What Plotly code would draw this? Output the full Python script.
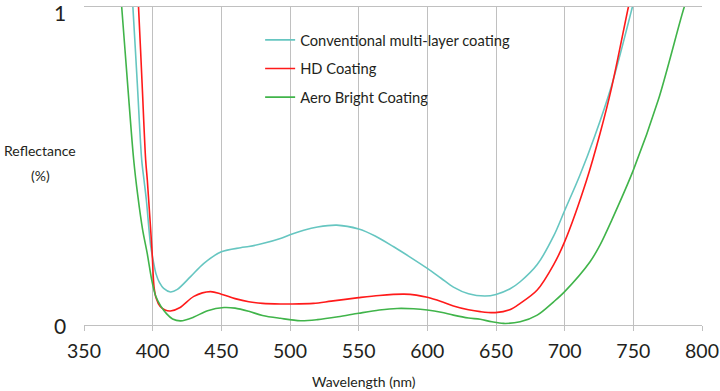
import plotly.graph_objects as go

# Wavelength (nm) and reflectance (%)
conv_wl = [383.8, 385.6, 388.8, 392.0, 393.7, 395.4, 398.5, 400.5, 402.5, 405.0, 408.0, 413.0,
           418.0, 427.6, 437.3, 450.0, 464.0, 470.0, 480.0, 493.0, 500.0, 510.0, 520.0, 534.0,
           550.0, 562.0, 575.5, 588.0, 600.0, 610.0, 619.0, 630.0, 642.0, 650.0, 660.0, 667.6,
           680.0, 692.0, 700.0, 711.0, 722.0, 734.3, 749.3, 751.0]
conv_r = [1.12, 1.0, 0.76, 0.52, 0.456, 0.393, 0.25, 0.2, 0.16, 0.133, 0.115, 0.104,
          0.112, 0.152, 0.194, 0.23, 0.243, 0.247, 0.256, 0.272, 0.284, 0.298, 0.308, 0.314,
          0.302, 0.28, 0.246, 0.212, 0.178, 0.147, 0.119, 0.098, 0.091, 0.096, 0.113, 0.136,
          0.19, 0.28, 0.36, 0.47, 0.595, 0.755, 1.0, 1.03]

hd_wl = [388.0, 389.7, 392.3, 394.9, 396.1, 397.1, 399.5, 401.0, 402.5, 405.5, 409.0, 413.0,
         420.0, 430.0, 442.0, 450.0, 460.0, 470.0, 480.0, 493.0, 500.0, 517.0, 530.0, 550.0,
         565.0, 583.0, 592.0, 600.0, 610.0, 619.0, 630.0, 638.5, 649.5, 660.0, 667.6, 680.0,
         692.0, 700.0, 716.0, 725.8, 734.3, 746.4, 748.0]
hd_r = [1.12, 1.0, 0.76, 0.519, 0.456, 0.393, 0.236, 0.12, 0.085, 0.058, 0.047, 0.044,
        0.055, 0.09, 0.105, 0.097, 0.083, 0.073, 0.068, 0.066, 0.066, 0.068, 0.075, 0.086,
        0.093, 0.097, 0.094, 0.087, 0.074, 0.06, 0.048, 0.042, 0.039, 0.048, 0.068, 0.11,
        0.19, 0.262, 0.456, 0.603, 0.749, 1.0, 1.03]

aero_wl = [375.5, 377.45, 381.8, 386.2, 389.1, 392.7, 396.0, 399.3, 402.2, 405.8, 410.2, 414.5,
           420.4, 430.0, 440.0, 452.0, 460.0, 470.0, 480.0, 493.0, 507.6, 520.0, 535.0, 550.0,
           565.0, 578.0, 590.0, 600.0, 610.0, 619.0, 630.0, 638.5, 647.0, 655.5, 667.6, 680.0,
           692.0, 700.0, 718.5, 725.8, 734.3, 750.0, 768.2, 787.1, 789.0]
aero_r = [1.1, 1.0, 0.755, 0.519, 0.409, 0.299, 0.226, 0.142, 0.091, 0.06, 0.035, 0.019,
          0.013, 0.025, 0.045, 0.055, 0.053, 0.043, 0.03, 0.021, 0.0136, 0.017, 0.026, 0.037,
          0.047, 0.052, 0.051, 0.047, 0.04, 0.031, 0.022, 0.018, 0.01, 0.005, 0.01, 0.031,
          0.073, 0.105, 0.199, 0.252, 0.33, 0.487, 0.708, 1.0, 1.02]

series_names = ["Conventional multi-layer coating", "HD Coating", "Aero Bright Coating"]
x_ticks = [350, 400, 450, 500, 550, 600, 650, 700, 750, 800]
y_ticks = [0, 1]
y_tick_labels = ["0", "1"]

colors = ["#66c6c1", "#ff1a1a", "#40b44a"]
FONT = "Lato"
TXT = "#231f20"
GRID = "#c0c0c0"

fig = go.Figure()
for name, wl, r, c in zip(series_names, [conv_wl, hd_wl, aero_wl], [conv_r, hd_r, aero_r], colors):
    fig.add_trace(go.Scatter(x=wl, y=r, mode="lines", name=name, legendgroup=name,
                             line=dict(color=c, width=1.6, shape="spline", smoothing=0.9)))

annotations = [
    dict(text="Reflectance", xref="paper", yref="paper", x=-0.072, y=0.55,
         xanchor="center", yanchor="middle",
         showarrow=False, font=dict(size=14, family=FONT, color=TXT)),
    dict(text="(%)", xref="paper", yref="paper", x=-0.071, y=0.469,
         xanchor="center", yanchor="middle",
         showarrow=False, font=dict(size=14, family=FONT, color=TXT)),
    dict(text="Wavelength (nm)", xref="paper", yref="paper", x=0.453, y=-0.179,
         xanchor="center", yanchor="middle", showarrow=False,
         font=dict(size=14, family=FONT, color=TXT)),
]
# y-axis tick labels (kept as text, nudged inside the page at the top edge)
for v, lab in zip(y_ticks, y_tick_labels):
    annotations.append(dict(text=lab, xref="paper", yref="y", x=0, y=v, xanchor="right",
                            yanchor="middle", xshift=-17, yshift=(-5 if v == max(y_ticks) else 0),
                            showarrow=False, borderpad=0,
                            font=dict(size=21, family=FONT, color=TXT)))

fig.update_layout(
    width=720, height=391,
    margin=dict(l=83.5, r=17.7, t=7, b=66),
    plot_bgcolor="white", paper_bgcolor="white",
    font=dict(family=FONT, color=TXT),
    showlegend=True,
    legend=dict(x=0.285, y=0.947, xanchor="left", yanchor="top",
                font=dict(size=14.7, family=FONT, color=TXT),
                bgcolor="rgba(255,255,255,0)", tracegroupgap=6.5, itemwidth=30),
    xaxis=dict(range=[350, 800], tickvals=x_ticks, showgrid=True, gridcolor=GRID,
               gridwidth=1, zeroline=False, showline=True, mirror=True, linecolor=GRID,
               linewidth=1, ticks="outside", ticklen=5, automargin=False,
               tickcolor=GRID, ticklabelstandoff=4,
               tickfont=dict(size=19.5, family=FONT, color=TXT)),
    yaxis=dict(range=[0, 1], tickvals=y_ticks, showgrid=True, gridcolor=GRID,
               gridwidth=1, zeroline=False, showline=False, ticks="", automargin=False,
               showticklabels=False),
    annotations=annotations,
)

fig.write_html("out.html", config={"displayModeBar": False},
               post_script="document.body.style.margin='0';document.body.style.padding='0';")
